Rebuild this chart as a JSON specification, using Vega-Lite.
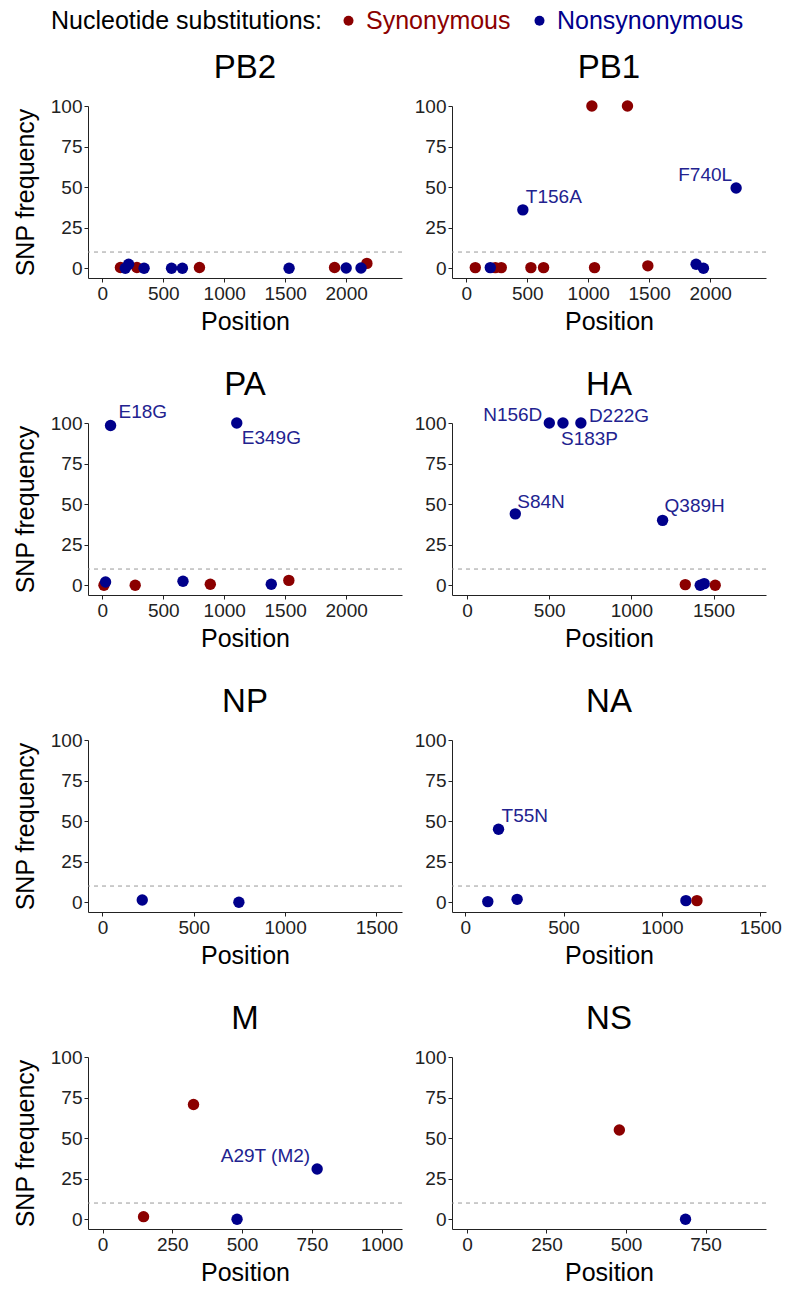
{
  "$schema": "https://vega.github.io/schema/vega-lite/v6.json",
  "padding": {"left": 13, "top": 8, "right": 5, "bottom": 5},
  "background": "white",
  "datasets": {
    "snp": [
      {"segment": "PB2", "position": 149, "freq": 0.5, "type": "Synonymous", "label": null},
      {"segment": "PB2", "position": 284, "freq": 0.5, "type": "Synonymous", "label": null},
      {"segment": "PB2", "position": 797, "freq": 0.5, "type": "Synonymous", "label": null},
      {"segment": "PB2", "position": 1905, "freq": 0.5, "type": "Synonymous", "label": null},
      {"segment": "PB2", "position": 2170, "freq": 3, "type": "Synonymous", "label": null},
      {"segment": "PB2", "position": 189, "freq": 0, "type": "Nonsynonymous", "label": null},
      {"segment": "PB2", "position": 216, "freq": 2.5, "type": "Nonsynonymous", "label": null},
      {"segment": "PB2", "position": 343, "freq": 0, "type": "Nonsynonymous", "label": null},
      {"segment": "PB2", "position": 568, "freq": 0, "type": "Nonsynonymous", "label": null},
      {"segment": "PB2", "position": 657, "freq": 0, "type": "Nonsynonymous", "label": null},
      {"segment": "PB2", "position": 1532, "freq": 0, "type": "Nonsynonymous", "label": null},
      {"segment": "PB2", "position": 2000, "freq": 0.2, "type": "Nonsynonymous", "label": null},
      {"segment": "PB2", "position": 2122, "freq": 0.2, "type": "Nonsynonymous", "label": null},

      {"segment": "PB1", "position": 74, "freq": 0.4, "type": "Synonymous", "label": null},
      {"segment": "PB1", "position": 238, "freq": 0.4, "type": "Synonymous", "label": null},
      {"segment": "PB1", "position": 287, "freq": 0.4, "type": "Synonymous", "label": null},
      {"segment": "PB1", "position": 530, "freq": 0.4, "type": "Synonymous", "label": null},
      {"segment": "PB1", "position": 634, "freq": 0.4, "type": "Synonymous", "label": null},
      {"segment": "PB1", "position": 1030, "freq": 100, "type": "Synonymous", "label": null},
      {"segment": "PB1", "position": 1052, "freq": 0.4, "type": "Synonymous", "label": null},
      {"segment": "PB1", "position": 1322, "freq": 100, "type": "Synonymous", "label": null},
      {"segment": "PB1", "position": 1489, "freq": 1.5, "type": "Synonymous", "label": null},
      {"segment": "PB1", "position": 197, "freq": 0.4, "type": "Nonsynonymous", "label": null},
      {"segment": "PB1", "position": 464, "freq": 36, "type": "Nonsynonymous", "label": "T156A"},
      {"segment": "PB1", "position": 1885, "freq": 2.5, "type": "Nonsynonymous", "label": null},
      {"segment": "PB1", "position": 1945, "freq": 0, "type": "Nonsynonymous", "label": null},
      {"segment": "PB1", "position": 2213, "freq": 49.5, "type": "Nonsynonymous", "label": "F740L"},

      {"segment": "PA", "position": 14, "freq": 0, "type": "Synonymous", "label": null},
      {"segment": "PA", "position": 270, "freq": 0, "type": "Synonymous", "label": null},
      {"segment": "PA", "position": 886, "freq": 0.6, "type": "Synonymous", "label": null},
      {"segment": "PA", "position": 1530, "freq": 3, "type": "Synonymous", "label": null},
      {"segment": "PA", "position": 27, "freq": 2, "type": "Nonsynonymous", "label": null},
      {"segment": "PA", "position": 68, "freq": 98.5, "type": "Nonsynonymous", "label": "E18G"},
      {"segment": "PA", "position": 662, "freq": 2.5, "type": "Nonsynonymous", "label": null},
      {"segment": "PA", "position": 1103, "freq": 100, "type": "Nonsynonymous", "label": "E349G"},
      {"segment": "PA", "position": 1386, "freq": 0.6, "type": "Nonsynonymous", "label": null},

      {"segment": "HA", "position": 1328, "freq": 0.4, "type": "Synonymous", "label": null},
      {"segment": "HA", "position": 1510, "freq": 0, "type": "Synonymous", "label": null},
      {"segment": "HA", "position": 294, "freq": 44, "type": "Nonsynonymous", "label": "S84N"},
      {"segment": "HA", "position": 501, "freq": 100, "type": "Nonsynonymous", "label": "N156D"},
      {"segment": "HA", "position": 584, "freq": 100, "type": "Nonsynonymous", "label": "S183P"},
      {"segment": "HA", "position": 693, "freq": 100, "type": "Nonsynonymous", "label": "D222G"},
      {"segment": "HA", "position": 1190, "freq": 40, "type": "Nonsynonymous", "label": "Q389H"},
      {"segment": "HA", "position": 1419, "freq": 0, "type": "Nonsynonymous", "label": null},
      {"segment": "HA", "position": 1443, "freq": 1, "type": "Nonsynonymous", "label": null},

      {"segment": "NP", "position": 218, "freq": 1.4, "type": "Nonsynonymous", "label": null},
      {"segment": "NP", "position": 747, "freq": 0, "type": "Nonsynonymous", "label": null},

      {"segment": "NA", "position": 115, "freq": 0.4, "type": "Nonsynonymous", "label": null},
      {"segment": "NA", "position": 169.5, "freq": 45, "type": "Nonsynonymous", "label": "T55N"},
      {"segment": "NA", "position": 264, "freq": 1.8, "type": "Nonsynonymous", "label": null},
      {"segment": "NA", "position": 1122, "freq": 1, "type": "Nonsynonymous", "label": null},
      {"segment": "NA", "position": 1178, "freq": 1, "type": "Synonymous", "label": null},

      {"segment": "M", "position": 147, "freq": 1.6, "type": "Synonymous", "label": null},
      {"segment": "M", "position": 326, "freq": 70.7, "type": "Synonymous", "label": null},
      {"segment": "M", "position": 482, "freq": 0, "type": "Nonsynonymous", "label": null},
      {"segment": "M", "position": 769, "freq": 31, "type": "Nonsynonymous", "label": "A29T (M2)"},

      {"segment": "NS", "position": 479, "freq": 55, "type": "Synonymous", "label": null},
      {"segment": "NS", "position": 687, "freq": 0, "type": "Nonsynonymous", "label": null}
    ],
    "threshold": [{"cutoff": 10}]
  },
  "config": {
    "font": "Liberation Sans",
    "view": {"stroke": null},
    "title": {"fontSize": 33, "fontWeight": "normal", "color": "black", "offset": 12, "anchor": "middle"},
    "axis": {
      "grid": false,
      "domainColor": "#222",
      "domainWidth": 1,
      "tickColor": "#222",
      "tickSize": 4,
      "labelColor": "#222",
      "labelFontSize": 19,
      "labelPadding": 2,
      "labelFlush": false,
      "labelOverlap": false,
      "titleFontSize": 25,
      "titleFontWeight": "normal",
      "titleColor": "black",
      "format": "d"
    },
    "axisX": {"titlePadding": 6},
    "axisY": {"titlePadding": 12},
    "legend": {"layout": {"top": {"anchor": "middle"}}},
    "text": {"font": "Liberation Sans", "fontSize": 19, "color": "#22228f", "baseline": "middle"}
  },
  "bounds": "flush",
  "spacing": {"row": 145, "column": 50},
  "columns": 2,
  "concat": [
    {
      "title": {"text": "PB2", "offset": 12}, "width": 314, "height": 172,
      "layer": [
        {"data": {"name": "threshold"}, "mark": {"type": "rule", "strokeDash": [4, 4], "color": "#999999", "strokeWidth": 1}, "encoding": {"y": {"field": "cutoff", "type": "quantitative", "axis": {"title": "SNP frequency", "values": [0, 25, 50, 75, 100]}}}},
        {"data": {"name": "snp"}, "transform": [{"filter": "datum.segment == 'PB2'"}], "mark": {"type": "circle", "size": 130, "opacity": 1},
          "encoding": {
            "x": {"field": "position", "type": "quantitative", "scale": {"domain": [-117, 2458], "nice": false, "zero": false}, "axis": {"title": "Position", "values": [0, 500, 1000, 1500, 2000]}},
            "y": {"field": "freq", "type": "quantitative", "scale": {"domain": [-6, 100], "nice": false, "zero": false}, "axis": {"title": "SNP frequency", "values": [0, 25, 50, 75, 100]}},
            "color": {"field": "type", "type": "nominal", "scale": {"domain": ["Synonymous", "Nonsynonymous"], "range": ["#8b0000", "#00008b"]}, "legend": {"title": "Nucleotide substitutions:", "orient": "top", "direction": "horizontal", "titleOrient": "left", "titleFontSize": 25, "titleFontWeight": "normal", "titleColor": "black", "titleLimit": 0, "labelLimit": 0, "labelFontSize": 25, "labelColor": {"expr": "datum.label == 'Synonymous' ? '#8b0000' : '#00008b'"}, "symbolType": "circle", "symbolSize": 100, "symbolStrokeWidth": 0, "symbolOpacity": 1, "columnPadding": 16, "labelOffset": 5, "titlePadding": 14, "offset": 18}}
          }}
      ]
    },
    {
      "title": {"text": "PB1", "offset": 12}, "width": 314, "height": 172,
      "layer": [
        {"data": {"name": "threshold"}, "mark": {"type": "rule", "strokeDash": [4, 4], "color": "#999999", "strokeWidth": 1}, "encoding": {"y": {"field": "cutoff", "type": "quantitative", "axis": {"title": null, "values": [0, 25, 50, 75, 100]}}}},
        {"data": {"name": "snp"}, "transform": [{"filter": "datum.segment == 'PB1'"}], "mark": {"type": "circle", "size": 130, "opacity": 1},
          "encoding": {
            "x": {"field": "position", "type": "quantitative", "scale": {"domain": [-117, 2458], "nice": false, "zero": false}, "axis": {"title": "Position", "values": [0, 500, 1000, 1500, 2000]}},
            "y": {"field": "freq", "type": "quantitative", "scale": {"domain": [-6, 100], "nice": false, "zero": false}, "axis": {"title": null, "values": [0, 25, 50, 75, 100]}},
            "color": {"field": "type", "type": "nominal", "scale": {"domain": ["Synonymous", "Nonsynonymous"], "range": ["#8b0000", "#00008b"]}, "legend": {"title": "Nucleotide substitutions:", "orient": "top", "direction": "horizontal", "titleOrient": "left", "titleFontSize": 25, "titleFontWeight": "normal", "titleColor": "black", "titleLimit": 0, "labelLimit": 0, "labelFontSize": 25, "labelColor": {"expr": "datum.label == 'Synonymous' ? '#8b0000' : '#00008b'"}, "symbolType": "circle", "symbolSize": 100, "symbolStrokeWidth": 0, "symbolOpacity": 1, "columnPadding": 16, "labelOffset": 5, "titlePadding": 14, "offset": 18}}
          }},
        {"data": {"name": "snp"}, "transform": [{"filter": "datum.label == 'T156A'"}], "mark": {"type": "text", "align": "left", "dx": 3, "dy": -13}, "encoding": {"x": {"field": "position", "type": "quantitative"}, "y": {"field": "freq", "type": "quantitative"}, "text": {"field": "label"}}},
        {"data": {"name": "snp"}, "transform": [{"filter": "datum.label == 'F740L'"}], "mark": {"type": "text", "align": "right", "dx": -4, "dy": -13}, "encoding": {"x": {"field": "position", "type": "quantitative"}, "y": {"field": "freq", "type": "quantitative"}, "text": {"field": "label"}}}
      ]
    },
    {
      "title": {"text": "PA", "offset": 1}, "width": 314, "height": 172,
      "layer": [
        {"data": {"name": "threshold"}, "mark": {"type": "rule", "strokeDash": [4, 4], "color": "#999999", "strokeWidth": 1}, "encoding": {"y": {"field": "cutoff", "type": "quantitative", "axis": {"title": "SNP frequency", "values": [0, 25, 50, 75, 100]}}}},
        {"data": {"name": "snp"}, "transform": [{"filter": "datum.segment == 'PA'"}], "mark": {"type": "circle", "size": 130, "opacity": 1},
          "encoding": {
            "x": {"field": "position", "type": "quantitative", "scale": {"domain": [-117, 2458], "nice": false, "zero": false}, "axis": {"title": "Position", "values": [0, 500, 1000, 1500, 2000]}},
            "y": {"field": "freq", "type": "quantitative", "scale": {"domain": [-6, 100], "nice": false, "zero": false}, "axis": {"title": "SNP frequency", "values": [0, 25, 50, 75, 100]}},
            "color": {"field": "type", "type": "nominal", "scale": {"domain": ["Synonymous", "Nonsynonymous"], "range": ["#8b0000", "#00008b"]}, "legend": {"title": "Nucleotide substitutions:", "orient": "top", "direction": "horizontal", "titleOrient": "left", "titleFontSize": 25, "titleFontWeight": "normal", "titleColor": "black", "titleLimit": 0, "labelLimit": 0, "labelFontSize": 25, "labelColor": {"expr": "datum.label == 'Synonymous' ? '#8b0000' : '#00008b'"}, "symbolType": "circle", "symbolSize": 100, "symbolStrokeWidth": 0, "symbolOpacity": 1, "columnPadding": 16, "labelOffset": 5, "titlePadding": 14, "offset": 18}}
          }},
        {"data": {"name": "snp"}, "transform": [{"filter": "datum.label == 'E18G'"}], "mark": {"type": "text", "align": "left", "dx": 8, "dy": -13}, "encoding": {"x": {"field": "position", "type": "quantitative"}, "y": {"field": "freq", "type": "quantitative"}, "text": {"field": "label"}}},
        {"data": {"name": "snp"}, "transform": [{"filter": "datum.label == 'E349G'"}], "mark": {"type": "text", "align": "left", "dx": 5, "dy": 15}, "encoding": {"x": {"field": "position", "type": "quantitative"}, "y": {"field": "freq", "type": "quantitative"}, "text": {"field": "label"}}}
      ]
    },
    {
      "title": {"text": "HA", "offset": 4}, "width": 314, "height": 172,
      "layer": [
        {"data": {"name": "threshold"}, "mark": {"type": "rule", "strokeDash": [4, 4], "color": "#999999", "strokeWidth": 1}, "encoding": {"y": {"field": "cutoff", "type": "quantitative", "axis": {"title": null, "values": [0, 25, 50, 75, 100]}}}},
        {"data": {"name": "snp"}, "transform": [{"filter": "datum.segment == 'HA'"}], "mark": {"type": "circle", "size": 130, "opacity": 1},
          "encoding": {
            "x": {"field": "position", "type": "quantitative", "scale": {"domain": [-91, 1819], "nice": false, "zero": false}, "axis": {"title": "Position", "values": [0, 500, 1000, 1500]}},
            "y": {"field": "freq", "type": "quantitative", "scale": {"domain": [-6, 100], "nice": false, "zero": false}, "axis": {"title": null, "values": [0, 25, 50, 75, 100]}},
            "color": {"field": "type", "type": "nominal", "scale": {"domain": ["Synonymous", "Nonsynonymous"], "range": ["#8b0000", "#00008b"]}, "legend": {"title": "Nucleotide substitutions:", "orient": "top", "direction": "horizontal", "titleOrient": "left", "titleFontSize": 25, "titleFontWeight": "normal", "titleColor": "black", "titleLimit": 0, "labelLimit": 0, "labelFontSize": 25, "labelColor": {"expr": "datum.label == 'Synonymous' ? '#8b0000' : '#00008b'"}, "symbolType": "circle", "symbolSize": 100, "symbolStrokeWidth": 0, "symbolOpacity": 1, "columnPadding": 16, "labelOffset": 5, "titlePadding": 14, "offset": 18}}
          }},
        {"data": {"name": "snp"}, "transform": [{"filter": "datum.label == 'N156D'"}], "mark": {"type": "text", "align": "right", "dx": -7, "dy": -8}, "encoding": {"x": {"field": "position", "type": "quantitative"}, "y": {"field": "freq", "type": "quantitative"}, "text": {"field": "label"}}},
        {"data": {"name": "snp"}, "transform": [{"filter": "datum.label == 'S183P'"}], "mark": {"type": "text", "align": "left", "dx": -2, "dy": 16}, "encoding": {"x": {"field": "position", "type": "quantitative"}, "y": {"field": "freq", "type": "quantitative"}, "text": {"field": "label"}}},
        {"data": {"name": "snp"}, "transform": [{"filter": "datum.label == 'D222G'"}], "mark": {"type": "text", "align": "left", "dx": 8, "dy": -7}, "encoding": {"x": {"field": "position", "type": "quantitative"}, "y": {"field": "freq", "type": "quantitative"}, "text": {"field": "label"}}},
        {"data": {"name": "snp"}, "transform": [{"filter": "datum.label == 'S84N'"}], "mark": {"type": "text", "align": "left", "dx": 2, "dy": -12}, "encoding": {"x": {"field": "position", "type": "quantitative"}, "y": {"field": "freq", "type": "quantitative"}, "text": {"field": "label"}}},
        {"data": {"name": "snp"}, "transform": [{"filter": "datum.label == 'Q389H'"}], "mark": {"type": "text", "align": "left", "dx": 2, "dy": -14}, "encoding": {"x": {"field": "position", "type": "quantitative"}, "y": {"field": "freq", "type": "quantitative"}, "text": {"field": "label"}}}
      ]
    },
    {
      "title": {"text": "NP", "offset": 12}, "width": 314, "height": 172,
      "layer": [
        {"data": {"name": "threshold"}, "mark": {"type": "rule", "strokeDash": [4, 4], "color": "#999999", "strokeWidth": 1}, "encoding": {"y": {"field": "cutoff", "type": "quantitative", "axis": {"title": "SNP frequency", "values": [0, 25, 50, 75, 100]}}}},
        {"data": {"name": "snp"}, "transform": [{"filter": "datum.segment == 'NP'"}], "mark": {"type": "circle", "size": 130, "opacity": 1},
          "encoding": {
            "x": {"field": "position", "type": "quantitative", "scale": {"domain": [-79, 1640], "nice": false, "zero": false}, "axis": {"title": "Position", "values": [0, 500, 1000, 1500]}},
            "y": {"field": "freq", "type": "quantitative", "scale": {"domain": [-6, 100], "nice": false, "zero": false}, "axis": {"title": "SNP frequency", "values": [0, 25, 50, 75, 100]}},
            "color": {"field": "type", "type": "nominal", "scale": {"domain": ["Synonymous", "Nonsynonymous"], "range": ["#8b0000", "#00008b"]}, "legend": {"title": "Nucleotide substitutions:", "orient": "top", "direction": "horizontal", "titleOrient": "left", "titleFontSize": 25, "titleFontWeight": "normal", "titleColor": "black", "titleLimit": 0, "labelLimit": 0, "labelFontSize": 25, "labelColor": {"expr": "datum.label == 'Synonymous' ? '#8b0000' : '#00008b'"}, "symbolType": "circle", "symbolSize": 100, "symbolStrokeWidth": 0, "symbolOpacity": 1, "columnPadding": 16, "labelOffset": 5, "titlePadding": 14, "offset": 18}}
          }}
      ]
    },
    {
      "title": {"text": "NA", "offset": 12}, "width": 314, "height": 172,
      "layer": [
        {"data": {"name": "threshold"}, "mark": {"type": "rule", "strokeDash": [4, 4], "color": "#999999", "strokeWidth": 1}, "encoding": {"y": {"field": "cutoff", "type": "quantitative", "axis": {"title": null, "values": [0, 25, 50, 75, 100]}}}},
        {"data": {"name": "snp"}, "transform": [{"filter": "datum.segment == 'NA'"}], "mark": {"type": "circle", "size": 130, "opacity": 1},
          "encoding": {
            "x": {"field": "position", "type": "quantitative", "scale": {"domain": [-67, 1529], "nice": false, "zero": false}, "axis": {"title": "Position", "values": [0, 500, 1000, 1500]}},
            "y": {"field": "freq", "type": "quantitative", "scale": {"domain": [-6, 100], "nice": false, "zero": false}, "axis": {"title": null, "values": [0, 25, 50, 75, 100]}},
            "color": {"field": "type", "type": "nominal", "scale": {"domain": ["Synonymous", "Nonsynonymous"], "range": ["#8b0000", "#00008b"]}, "legend": {"title": "Nucleotide substitutions:", "orient": "top", "direction": "horizontal", "titleOrient": "left", "titleFontSize": 25, "titleFontWeight": "normal", "titleColor": "black", "titleLimit": 0, "labelLimit": 0, "labelFontSize": 25, "labelColor": {"expr": "datum.label == 'Synonymous' ? '#8b0000' : '#00008b'"}, "symbolType": "circle", "symbolSize": 100, "symbolStrokeWidth": 0, "symbolOpacity": 1, "columnPadding": 16, "labelOffset": 5, "titlePadding": 14, "offset": 18}}
          }},
        {"data": {"name": "snp"}, "transform": [{"filter": "datum.label == 'T55N'"}], "mark": {"type": "text", "align": "left", "dx": 3, "dy": -13}, "encoding": {"x": {"field": "position", "type": "quantitative"}, "y": {"field": "freq", "type": "quantitative"}, "text": {"field": "label"}}}
      ]
    },
    {
      "title": {"text": "M", "offset": 12}, "width": 314, "height": 172,
      "layer": [
        {"data": {"name": "threshold"}, "mark": {"type": "rule", "strokeDash": [4, 4], "color": "#999999", "strokeWidth": 1}, "encoding": {"y": {"field": "cutoff", "type": "quantitative", "axis": {"title": "SNP frequency", "values": [0, 25, 50, 75, 100]}}}},
        {"data": {"name": "snp"}, "transform": [{"filter": "datum.segment == 'M'"}], "mark": {"type": "circle", "size": 130, "opacity": 1},
          "encoding": {
            "x": {"field": "position", "type": "quantitative", "scale": {"domain": [-52, 1073], "nice": false, "zero": false}, "axis": {"title": "Position", "values": [0, 250, 500, 750, 1000]}},
            "y": {"field": "freq", "type": "quantitative", "scale": {"domain": [-6, 100], "nice": false, "zero": false}, "axis": {"title": "SNP frequency", "values": [0, 25, 50, 75, 100]}},
            "color": {"field": "type", "type": "nominal", "scale": {"domain": ["Synonymous", "Nonsynonymous"], "range": ["#8b0000", "#00008b"]}, "legend": {"title": "Nucleotide substitutions:", "orient": "top", "direction": "horizontal", "titleOrient": "left", "titleFontSize": 25, "titleFontWeight": "normal", "titleColor": "black", "titleLimit": 0, "labelLimit": 0, "labelFontSize": 25, "labelColor": {"expr": "datum.label == 'Synonymous' ? '#8b0000' : '#00008b'"}, "symbolType": "circle", "symbolSize": 100, "symbolStrokeWidth": 0, "symbolOpacity": 1, "columnPadding": 16, "labelOffset": 5, "titlePadding": 14, "offset": 18}}
          }},
        {"data": {"name": "snp"}, "transform": [{"filter": "datum.label == 'A29T (M2)'"}], "mark": {"type": "text", "align": "right", "dx": -7, "dy": -13}, "encoding": {"x": {"field": "position", "type": "quantitative"}, "y": {"field": "freq", "type": "quantitative"}, "text": {"field": "label"}}}
      ]
    },
    {
      "title": {"text": "NS", "offset": 12}, "width": 314, "height": 172,
      "layer": [
        {"data": {"name": "threshold"}, "mark": {"type": "rule", "strokeDash": [4, 4], "color": "#999999", "strokeWidth": 1}, "encoding": {"y": {"field": "cutoff", "type": "quantitative", "axis": {"title": null, "values": [0, 25, 50, 75, 100]}}}},
        {"data": {"name": "snp"}, "transform": [{"filter": "datum.segment == 'NS'"}], "mark": {"type": "circle", "size": 130, "opacity": 1},
          "encoding": {
            "x": {"field": "position", "type": "quantitative", "scale": {"domain": [-47, 940], "nice": false, "zero": false}, "axis": {"title": "Position", "values": [0, 250, 500, 750]}},
            "y": {"field": "freq", "type": "quantitative", "scale": {"domain": [-6, 100], "nice": false, "zero": false}, "axis": {"title": null, "values": [0, 25, 50, 75, 100]}},
            "color": {"field": "type", "type": "nominal", "scale": {"domain": ["Synonymous", "Nonsynonymous"], "range": ["#8b0000", "#00008b"]}, "legend": {"title": "Nucleotide substitutions:", "orient": "top", "direction": "horizontal", "titleOrient": "left", "titleFontSize": 25, "titleFontWeight": "normal", "titleColor": "black", "titleLimit": 0, "labelLimit": 0, "labelFontSize": 25, "labelColor": {"expr": "datum.label == 'Synonymous' ? '#8b0000' : '#00008b'"}, "symbolType": "circle", "symbolSize": 100, "symbolStrokeWidth": 0, "symbolOpacity": 1, "columnPadding": 16, "labelOffset": 5, "titlePadding": 14, "offset": 18}}
          }}
      ]
    }
  ]
}
